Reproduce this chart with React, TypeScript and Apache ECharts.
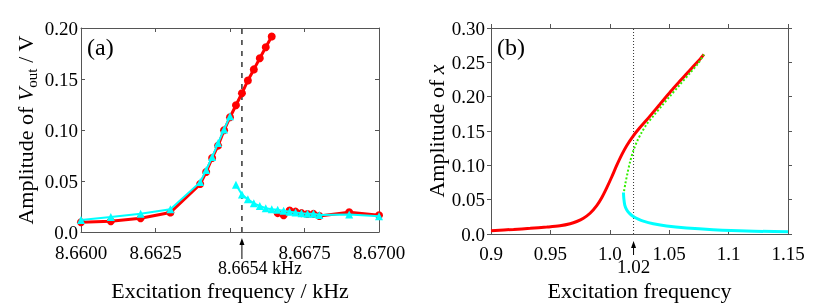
import React, { useEffect, useRef } from 'react';
import * as echarts from 'echarts';

const SERIF = 'Liberation Serif';

// ---------- Panel (a): measured response ----------
// increasing-frequency sweep (red), before and after the jump
const upFreqBefore = [8.6600, 8.6610, 8.6620, 8.6630, 8.6640, 8.6642, 8.6644, 8.6646, 8.6648, 8.6650, 8.6652, 8.6654, 8.6656, 8.6658, 8.6660, 8.6662, 8.6664];
const upAmpBefore = [0.0096, 0.0105, 0.0134, 0.0192, 0.0470, 0.0588, 0.0725, 0.0847, 0.0997, 0.1125, 0.1243, 0.1360, 0.1486, 0.1594, 0.1703, 0.1812, 0.1917];
const upFreqAfter = [8.6666, 8.6668, 8.6670, 8.6672, 8.6674, 8.6676, 8.6678, 8.6680, 8.6690, 8.6700];
const upAmpAfter = [0.0185, 0.0165, 0.0210, 0.0200, 0.0185, 0.0176, 0.0178, 0.0157, 0.0193, 0.0165];
// decreasing-frequency sweep (cyan)
const downFreqLow = [8.6600, 8.6610, 8.6620, 8.6630, 8.6640, 8.6642, 8.6644, 8.6646, 8.6648, 8.6650];
const downAmpLow = [0.0118, 0.0147, 0.0179, 0.0224, 0.0489, 0.0607, 0.0735, 0.0872, 0.1006, 0.1134];
const downFreqHigh = [8.6652, 8.6654, 8.6656, 8.6658, 8.6660, 8.6662, 8.6664, 8.6666, 8.6668, 8.6670, 8.6672, 8.6674, 8.6676, 8.6678, 8.6680, 8.6690, 8.6700];
const downAmpHigh = [0.0463, 0.0367, 0.0320, 0.0281, 0.0256, 0.0233, 0.0224, 0.0217, 0.0208, 0.0198, 0.0192, 0.0185, 0.0179, 0.0179, 0.0166, 0.0172, 0.0155];
const jumpFreqA = 8.6654;
const xTicksA = ['8.6600', '8.6625', '', '8.6675', '8.6700'];
const yTicksA = ['0.0', '0.05', '0.10', '0.15', '0.20'];

// ---------- Panel (b): model response ----------
const stableHighX = [0.9, 0.919, 0.933, 0.947, 0.958, 0.9666, 0.9722, 0.9778, 0.9834, 0.989, 0.9932, 0.9974, 1.0016, 1.0058, 1.01, 1.0142, 1.0198, 1.0254, 1.031, 1.0366, 1.0422, 1.0478, 1.0534, 1.059, 1.0646, 1.0702, 1.0758, 1.0792];
const stableHighY = [0.0048, 0.0067, 0.0082, 0.0101, 0.012, 0.0149, 0.0182, 0.023, 0.0302, 0.0413, 0.0528, 0.0672, 0.083, 0.0998, 0.1152, 0.1286, 0.143, 0.155, 0.166, 0.1775, 0.189, 0.2006, 0.212, 0.2227, 0.2332, 0.2438, 0.2543, 0.2615];
const stableLowX = [1.0115, 1.0118, 1.0126, 1.0143, 1.017, 1.0198, 1.024, 1.0282, 1.0366, 1.0478, 1.0646, 1.087, 1.115, 1.15];
const stableLowY = [0.0605, 0.0518, 0.0422, 0.035, 0.0293, 0.0254, 0.0216, 0.0187, 0.0149, 0.0115, 0.0086, 0.0062, 0.0043, 0.0034];
const unstableX = [1.012, 1.0131, 1.0148, 1.017, 1.0198, 1.0232, 1.0268, 1.031, 1.0366, 1.0436, 1.0506, 1.059, 1.0674, 1.0744, 1.0792];
const unstableY = [0.0624, 0.0734, 0.0878, 0.1046, 0.1214, 0.1358, 0.1478, 0.1598, 0.1718, 0.1862, 0.2006, 0.2174, 0.2342, 0.2486, 0.2615];
const jumpFreqB = 1.02;
const xTicksB = ['0.9', '0.95', '1.0', '1.05', '1.1', '1.15'];
const yTicksB = ['0.0', '0.05', '0.10', '0.15', '0.20', '0.25', '0.30'];

const zip = (xs: number[], ys: number[]) => xs.map((x, i) => [x, ys[i]]);

const FRAME = '#555';
const tickLabel = { fontFamily: SERIF, fontSize: 19, color: '#000' };
const nameStyle = { fontFamily: SERIF, fontSize: 22, color: '#000' };

export default function App() {
  const ref = useRef<HTMLDivElement>(null);
  useEffect(() => {
    const chart = echarts.init(ref.current!, null, { renderer: 'svg' });
    const frameAxis = (inside: boolean) => ({
      axisLine: { show: true, onZero: false, lineStyle: { color: FRAME, width: 1 } },
      axisTick: { show: true, inside, length: 4, lineStyle: { color: FRAME } },
      splitLine: { show: false },
    });
    const option: any = {
      animation: false,
      textStyle: { fontFamily: SERIF },
      grid: [
        { left: 81, top: 28, width: 298, height: 208 },
        { left: 491, top: 28, width: 297, height: 208 },
      ],
      xAxis: [
        {
          gridIndex: 0, type: 'value', min: 8.66, max: 8.67, interval: 0.0025, position: 'bottom',
          ...frameAxis(true),
          axisLabel: { ...tickLabel, margin: 11, formatter: (_v: number, i: number) => xTicksA[i] ?? '' },
          name: 'Excitation frequency / kHz', nameLocation: 'middle', nameGap: 47, nameTextStyle: nameStyle,
        },
        {
          gridIndex: 0, type: 'value', min: 8.66, max: 8.67, interval: 0.0025, position: 'top',
          ...frameAxis(true), axisLabel: { show: false },
        },
        {
          gridIndex: 1, type: 'value', min: 0.9, max: 1.15, interval: 0.05, position: 'bottom',
          ...frameAxis(true),
          axisLabel: { ...tickLabel, margin: 10, formatter: (_v: number, i: number) => xTicksB[i] ?? '' },
          name: 'Excitation frequency', nameLocation: 'middle', nameGap: 45, nameTextStyle: nameStyle,
        },
        {
          gridIndex: 1, type: 'value', min: 0.9, max: 1.15, interval: 0.05, position: 'top',
          ...frameAxis(false), axisLabel: { show: false },
        },
      ],
      yAxis: [
        {
          gridIndex: 0, type: 'value', min: 0, max: 0.2, interval: 0.05, position: 'left',
          ...frameAxis(true),
          axisLabel: { ...tickLabel, margin: 3, formatter: (_v: number, i: number) => yTicksA[i] ?? '' },
          name: '{t|Amplitude of }{v|V}{s|out}{t| / V}', nameLocation: 'middle', nameGap: 42,
          nameTextStyle: {
            ...nameStyle,
            rich: {
              t: { fontFamily: SERIF, fontSize: 22, color: '#000', lineHeight: 28 },
              v: { fontFamily: SERIF, fontSize: 22, color: '#000', fontStyle: 'italic', lineHeight: 28 },
              s: { fontFamily: SERIF, fontSize: 15, color: '#000', verticalAlign: 'bottom', lineHeight: 28 },
            },
          },
        },
        {
          gridIndex: 0, type: 'value', min: 0, max: 0.2, interval: 0.05, position: 'right',
          ...frameAxis(true), axisLabel: { show: false },
        },
        {
          gridIndex: 1, type: 'value', min: 0, max: 0.3, interval: 0.05, position: 'left',
          ...frameAxis(false),
          axisLabel: { ...tickLabel, margin: 6, formatter: (_v: number, i: number) => yTicksB[i] ?? '' },
          name: '{t|Amplitude of }{v|x}', nameLocation: 'middle', nameGap: 43,
          nameTextStyle: {
            ...nameStyle,
            rich: {
              t: { fontFamily: SERIF, fontSize: 22, color: '#000' },
              v: { fontFamily: SERIF, fontSize: 22, color: '#000', fontStyle: 'italic' },
            },
          },
        },
        {
          gridIndex: 1, type: 'value', min: 0, max: 0.3, interval: 0.05, position: 'right',
          ...frameAxis(false), axisLabel: { show: false },
        },
      ],
      series: [
        {
          name: 'Jump A', type: 'line', xAxisIndex: 0, yAxisIndex: 0,
          data: [[jumpFreqA, 0], [jumpFreqA, 0.2]], showSymbol: false, symbol: 'none', silent: true,
          lineStyle: { color: '#333', type: [5, 6], width: 1.5 }, z: 1,
        },
        {
          name: 'Sweep up', type: 'line', xAxisIndex: 0, yAxisIndex: 0,
          data: [...zip(upFreqBefore, upAmpBefore), [jumpFreqA, '-'], ...zip(upFreqAfter, upAmpAfter)],
          connectNulls: false,
          symbol: 'circle', symbolSize: 8, showSymbol: true,
          itemStyle: { color: '#ff0000' }, lineStyle: { color: '#ff0000', width: 3 },
          z: 2,
        },
        {
          name: 'Sweep down', type: 'line', xAxisIndex: 0, yAxisIndex: 0,
          data: [...zip(downFreqLow, downAmpLow), [jumpFreqA - 0.0003, '-'], ...zip(downFreqHigh, downAmpHigh)],
          connectNulls: false,
          symbol: 'triangle', symbolSize: 8, showSymbol: true,
          itemStyle: { color: '#00ffff' }, lineStyle: { color: '#00ffff', width: 2 },
          z: 3,
        },
        {
          name: 'Jump B', type: 'line', xAxisIndex: 2, yAxisIndex: 2,
          data: [[jumpFreqB, 0], [jumpFreqB, 0.3]], showSymbol: false, symbol: 'none', silent: true,
          lineStyle: { color: '#333', type: [1, 2], width: 1 }, z: 1,
        },
        {
          name: 'Stable (upper)', type: 'line', xAxisIndex: 2, yAxisIndex: 2,
          data: zip(stableHighX, stableHighY), smooth: 0.3, showSymbol: false, symbol: 'none',
          lineStyle: { color: '#ff0000', width: 3 }, z: 2,
        },
        {
          name: 'Stable (lower)', type: 'line', xAxisIndex: 2, yAxisIndex: 2,
          data: zip(stableLowX, stableLowY), smooth: 0.3, showSymbol: false, symbol: 'none',
          lineStyle: { color: '#00ffff', width: 3 }, z: 2,
        },
        {
          name: 'Unstable', type: 'line', xAxisIndex: 2, yAxisIndex: 2,
          data: zip(unstableX, unstableY), smooth: 0.3, showSymbol: false, symbol: 'none',
          lineStyle: { color: '#33ee00', width: 2, type: [2, 2] }, z: 3,
        },
      ],
    };
    chart.setOption(option);

    const [axA, ayA] = chart.convertToPixel({ gridIndex: 0 }, [jumpFreqA, 0]) as number[];
    const [axB, ayB] = chart.convertToPixel({ gridIndex: 1 }, [jumpFreqB, 0]) as number[];
    const [tlAx, tlAy] = chart.convertToPixel({ gridIndex: 0 }, [8.66, 0.2]) as number[];
    const [tlBx, tlBy] = chart.convertToPixel({ gridIndex: 1 }, [0.9, 0.3]) as number[];
    const arrow = (x: number, tip: number, tail: number) => [
      { type: 'line', shape: { x1: x, y1: tip + 4, x2: x, y2: tail }, style: { stroke: '#000', lineWidth: 1 } },
      { type: 'polygon', shape: { points: [[x, tip], [x - 2.5, tip + 7], [x + 2.5, tip + 7]] }, style: { fill: '#000' } },
    ];
    chart.setOption({
      graphic: [
        ...arrow(axA, ayA + 6, ayA + 27),
        ...arrow(axB, ayB + 7, ayB + 21),
        { type: 'text', x: axA + 18, y: ayA + 36, style: { text: '8.6654 kHz', font: `18px ${SERIF}`, fill: '#000', align: 'center', verticalAlign: 'middle' } },
        { type: 'text', x: axB, y: ayB + 32, style: { text: '1.02', font: `19px ${SERIF}`, fill: '#000', align: 'center', verticalAlign: 'middle' } },
        { type: 'text', x: tlAx + 6, y: tlAy + 7, style: { text: '(a)', font: `24px ${SERIF}`, fill: '#000', align: 'left', verticalAlign: 'top' } },
        { type: 'text', x: tlBx + 6, y: tlBy + 7, style: { text: '(b)', font: `24px ${SERIF}`, fill: '#000', align: 'left', verticalAlign: 'top' } },
      ],
    });
    return () => chart.dispose();
  }, []);
  return <div ref={ref} style={{ position: 'fixed', left: 0, top: 0, width: 830, height: 306 }} />;
}
